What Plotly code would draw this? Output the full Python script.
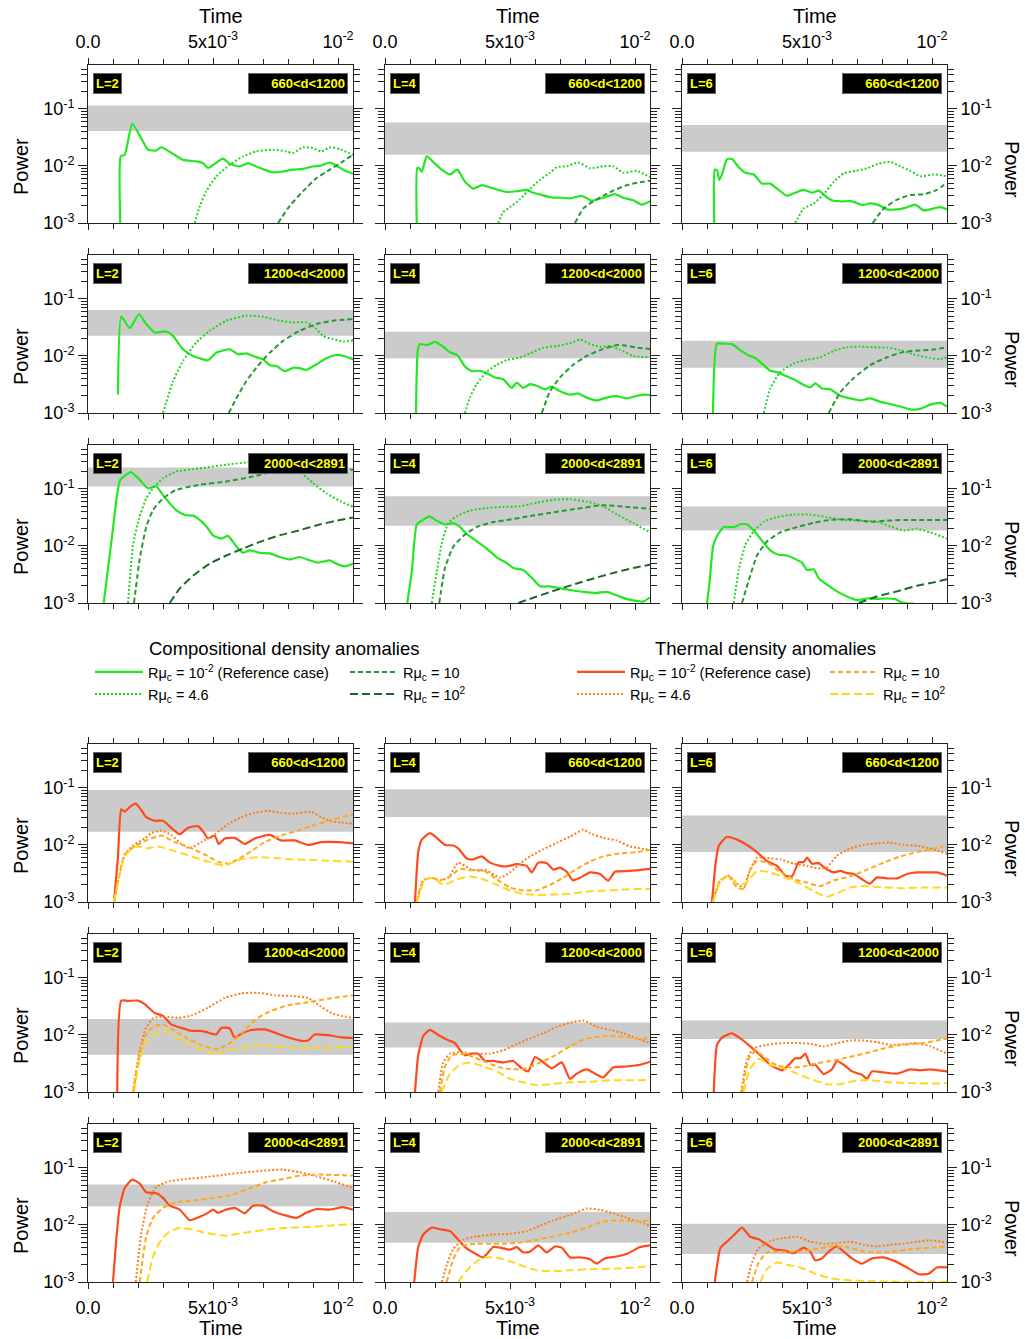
import plotly.graph_objects as go

# ---------------- data (time in units of 1e-3, power as read) ----------------
T_UNIT = 1e-3
X_MAX = 10.6

DEPTHS = ["660<d<1200", "1200<d<2000", "2000<d<2891"]
DEGREES = [2, 4, 6]

# gray bands (lo, hi) per depth row, per degree
comp_band = [[(0.041, 0.115), (0.0157, 0.058), (0.0177, 0.052)],
             [(0.0225, 0.064), (0.0091, 0.0265), (0.0062, 0.0185)],
             [(0.11, 0.238), (0.0226, 0.0747), (0.0186, 0.049)]]
therm_band = [[(0.017, 0.092), (0.031, 0.095), (0.0075, 0.033)],
              [(0.0045, 0.019), (0.006, 0.0165), (0.0085, 0.018)],
              [(0.0212, 0.051), (0.0049, 0.0168), (0.0031, 0.0105)]]

# ---- compositional, L=2
comp_L2_d1_ref = [(1.29,0.001),(1.31,0.0147),(1.47,0.0157),(1.77,0.0547),(2.2,0.0268),(2.4,0.0192),(2.73,0.0187),(2.93,0.0213),(3.4,0.0163),(3.8,0.0128),(4.33,0.012),(4.6,0.0112),(4.8,0.0092),(5.07,0.0109),(5.4,0.0134),(5.67,0.0109),(6.07,0.0098),(6.4,0.0112),(6.73,0.0098),(7.07,0.0086),(7.4,0.0077),(7.8,0.008),(8.2,0.0086),(8.6,0.0089),(9.0,0.0098),(9.33,0.0102),(9.67,0.0115),(9.93,0.0102),(10.27,0.0083),(10.6,0.0073)]
comp_L2_d1_r46 = [(4.27,0.001),(4.47,0.00196),(4.73,0.0036),(5.13,0.0065),(5.67,0.0105),(6.2,0.0147),(6.73,0.018),(7.4,0.0192),(7.93,0.018),(8.2,0.0168),(8.6,0.0213),(9.0,0.0205),(9.33,0.018),(9.67,0.0213),(10.07,0.0197),(10.6,0.0157)]
comp_L2_d1_r10 = [(7.6,0.001),(8.07,0.002),(8.6,0.0036),(9.13,0.0061),(9.67,0.0086),(10.2,0.012),(10.6,0.0157)]
comp_L2_d1_r100 = []
comp_L2_d2_ref = [(1.2,0.0021),(1.33,0.0488),(1.67,0.0308),(2.04,0.0544),(2.33,0.0362),(2.67,0.0258),(3.13,0.0269),(3.4,0.0225),(3.8,0.0131),(4.2,0.01),(4.47,0.0091),(4.8,0.0084),(5.13,0.0114),(5.67,0.0131),(6.0,0.0107),(6.33,0.0111),(6.6,0.01),(7.0,0.0087),(7.27,0.0069),(7.53,0.0067),(7.87,0.0054),(8.2,0.0062),(8.47,0.0061),(8.73,0.0057),(9.13,0.0071),(9.53,0.0091),(9.93,0.0104),(10.27,0.0099),(10.6,0.0087)]
comp_L2_d2_r46 = [(3.0,0.001),(3.4,0.0036),(3.8,0.0082),(4.33,0.0172),(4.87,0.0276),(5.53,0.0415),(6.33,0.0508),(7.0,0.0488),(7.67,0.0415),(8.2,0.0387),(8.73,0.039),(9.07,0.0316),(9.4,0.0225),(9.8,0.0197),(10.2,0.0179),(10.6,0.0188)]
comp_L2_d2_r10 = [(5.63,0.001),(5.93,0.0018),(6.33,0.0036),(6.73,0.0062),(7.27,0.0114),(7.8,0.0184),(8.47,0.0276),(9.13,0.0362),(9.8,0.0415),(10.6,0.0444)]
comp_L2_d2_r100 = []
comp_L2_d3_ref = [(0.63,0.001),(0.8,0.004),(1.0,0.0202),(1.16,0.078),(1.29,0.144),(1.71,0.197),(2.07,0.144),(2.4,0.103),(2.73,0.111),(3.0,0.078),(3.27,0.0558),(3.53,0.0426),(3.87,0.0348),(4.2,0.034),(4.53,0.0272),(4.8,0.0202),(5.0,0.0154),(5.33,0.0135),(5.6,0.015),(5.8,0.0118),(6.0,0.009),(6.2,0.0076),(6.47,0.0084),(6.87,0.0076),(7.27,0.0074),(7.67,0.0064),(8.07,0.0058),(8.47,0.0064),(8.87,0.0056),(9.2,0.0051),(9.67,0.0056),(9.93,0.0049),(10.27,0.0044),(10.6,0.0049)]
comp_L2_d3_r46 = [(1.6,0.001),(1.8,0.0103),(2.04,0.0304),(2.33,0.0684),(2.6,0.103),(3.0,0.154),(3.53,0.202),(4.47,0.23),(5.53,0.265),(6.47,0.296),(7.13,0.30),(7.93,0.265),(8.47,0.202),(9.0,0.126),(9.53,0.084),(10.07,0.0614),(10.6,0.0488)]
comp_L2_d3_r10 = [(1.84,0.001),(2.07,0.006),(2.33,0.0216),(2.6,0.0426),(3.0,0.0684),(3.53,0.096),(4.47,0.118),(5.53,0.135),(6.6,0.165),(7.4,0.202),(7.8,0.248),(8.47,0.265),(9.27,0.26),(10.6,0.216)]
comp_L2_d3_r100 = [(3.27,0.001),(3.67,0.0018),(4.2,0.003),(4.87,0.0049),(5.53,0.0068),(6.2,0.009),(6.87,0.0118),(7.67,0.0154),(8.47,0.0189),(9.27,0.0238),(9.93,0.0276),(10.6,0.0316)]
# ---- compositional, L=4
comp_L4_d1_ref = [(1.27,0.001),(1.29,0.0091),(1.37,0.0091),(1.47,0.0079),(1.67,0.0147),(2.0,0.011),(2.27,0.0086),(2.6,0.0071),(2.89,0.0086),(3.2,0.0053),(3.53,0.004),(3.87,0.0046),(4.2,0.0042),(4.53,0.0038),(4.87,0.0035),(5.27,0.0036),(5.67,0.0038),(5.93,0.0034),(6.27,0.0031),(6.67,0.0028),(7.07,0.00277),(7.4,0.0027),(7.87,0.003),(8.27,0.00246),(8.73,0.00277),(9.2,0.0032),(9.53,0.00277),(9.93,0.0025),(10.27,0.0021),(10.6,0.0024)]
comp_L4_d1_r46 = [(4.53,0.001),(4.73,0.00155),(5.0,0.0019),(5.4,0.0026),(5.8,0.004),(6.2,0.0057),(6.6,0.0076),(6.87,0.0095),(7.27,0.0099),(7.73,0.0115),(8.2,0.0091),(8.73,0.0099),(9.13,0.0099),(9.53,0.0076),(10.07,0.0082),(10.6,0.0064)]
comp_L4_d1_r10 = [(7.6,0.001),(7.93,0.0018),(8.33,0.0024),(8.73,0.003),(9.13,0.0037),(9.67,0.0046),(10.2,0.0052),(10.6,0.0055)]
comp_L4_d1_r100 = []
comp_L4_d2_ref = [(1.24,0.001),(1.31,0.0125),(1.4,0.0162),(1.67,0.0155),(2.0,0.0177),(2.33,0.0145),(2.6,0.0116),(2.89,0.0104),(3.2,0.0065),(3.47,0.0054),(3.8,0.0055),(4.07,0.005),(4.4,0.0042),(4.73,0.0039),(5.07,0.00275),(5.27,0.0034),(5.53,0.00275),(5.8,0.0032),(6.07,0.003),(6.4,0.0026),(6.67,0.0029),(7.0,0.0024),(7.4,0.0021),(7.73,0.0022),(8.07,0.00186),(8.47,0.00166),(8.87,0.00186),(9.27,0.00197),(9.67,0.0018),(10.07,0.002),(10.4,0.0021),(10.6,0.00205)]
comp_L4_d2_r46 = [(3.2,0.001),(3.4,0.0019),(3.67,0.0032),(4.07,0.0053),(4.47,0.007),(4.87,0.0085),(5.4,0.0094),(5.8,0.0111),(6.33,0.014),(6.87,0.0149),(7.4,0.0167),(7.8,0.0193),(8.2,0.0162),(8.6,0.0145),(9.0,0.0149),(9.4,0.0129),(9.93,0.01),(10.6,0.0094)]
comp_L4_d2_r10 = [(6.27,0.001),(6.6,0.0024),(7.0,0.0042),(7.53,0.007),(8.07,0.01),(8.73,0.0133),(9.27,0.0155),(9.67,0.0151),(10.07,0.014),(10.6,0.0133)]
comp_L4_d2_r100 = []
comp_L4_d3_ref = [(0.89,0.001),(1.07,0.0035),(1.27,0.024),(1.47,0.0277),(1.77,0.033),(2.07,0.0277),(2.4,0.024),(2.73,0.0251),(3.0,0.0216),(3.27,0.0162),(3.67,0.0121),(4.07,0.009),(4.47,0.0063),(4.87,0.005),(5.13,0.0041),(5.53,0.0038),(5.93,0.0026),(6.2,0.00196),(6.6,0.00196),(7.0,0.0018),(7.4,0.00169),(7.93,0.00157),(8.47,0.0015),(8.87,0.00157),(9.27,0.00136),(9.67,0.00117),(10.07,0.00109),(10.33,0.00106),(10.6,0.00126)]
comp_L4_d3_r46 = [(1.87,0.001),(2.07,0.0035),(2.27,0.0112),(2.53,0.0251),(2.87,0.0335),(3.4,0.0417),(4.07,0.0462),(4.73,0.0483),(5.4,0.0497),(6.07,0.0574),(6.73,0.0645),(7.4,0.066),(8.07,0.0598),(8.73,0.0497),(9.27,0.036),(9.93,0.0251),(10.6,0.0174)]
comp_L4_d3_r10 = [(2.17,0.001),(2.4,0.0041),(2.73,0.0097),(3.13,0.015),(3.67,0.0216),(4.33,0.0262),(5.0,0.029),(5.8,0.0335),(6.73,0.0388),(7.67,0.0449),(8.73,0.0519),(9.67,0.0483),(10.6,0.0449)]
comp_L4_d3_r100 = [(5.33,0.001),(6.07,0.0013),(6.87,0.0017),(7.67,0.0022),(8.47,0.0028),(9.27,0.0035),(9.93,0.0041),(10.6,0.0047)]
# ---- compositional, L=6
comp_L6_d1_ref = [(1.29,0.001),(1.31,0.0086),(1.4,0.0084),(1.49,0.0057),(1.6,0.0071),(1.8,0.0132),(2.0,0.0132),(2.27,0.0095),(2.53,0.0076),(2.87,0.0071),(3.2,0.0049),(3.53,0.0049),(3.87,0.0038),(4.2,0.003),(4.53,0.0034),(4.87,0.0038),(5.2,0.0034),(5.47,0.0037),(5.8,0.0028),(6.07,0.00245),(6.4,0.0024),(6.8,0.0024),(7.2,0.00206),(7.53,0.0022),(7.87,0.00206),(8.2,0.00173),(8.6,0.00173),(8.93,0.00184),(9.33,0.0021),(9.67,0.00166),(10.07,0.0018),(10.33,0.0019),(10.6,0.00173)]
comp_L6_d1_r46 = [(4.53,0.001),(4.87,0.0018),(5.27,0.0022),(5.67,0.0032),(6.07,0.0053),(6.47,0.0074),(6.93,0.0082),(7.4,0.0091),(7.87,0.011),(8.33,0.0118),(8.73,0.0099),(9.13,0.0082),(9.53,0.0066),(10.07,0.0071),(10.6,0.0066)]
comp_L6_d1_r10 = [(7.63,0.001),(8.07,0.0018),(8.6,0.00256),(9.13,0.0031),(9.67,0.0032),(10.2,0.0038),(10.6,0.0051)]
comp_L6_d1_r100 = []
comp_L6_d2_ref = [(1.24,0.001),(1.4,0.0164),(1.67,0.0164),(2.0,0.0161),(2.33,0.0127),(2.67,0.0102),(2.93,0.0092),(3.27,0.0069),(3.53,0.0055),(3.8,0.0052),(4.13,0.0045),(4.47,0.0039),(4.87,0.0031),(5.13,0.0028),(5.33,0.0033),(5.6,0.0027),(5.93,0.0026),(6.33,0.002),(6.73,0.0018),(7.13,0.00166),(7.53,0.0018),(7.93,0.00157),(8.33,0.00144),(8.73,0.0013),(9.13,0.00116),(9.53,0.00118),(9.93,0.0014),(10.33,0.0015),(10.6,0.0013)]
comp_L6_d2_r46 = [(3.27,0.001),(3.53,0.0027),(3.93,0.0052),(4.47,0.0074),(5.0,0.0086),(5.53,0.0095),(6.07,0.0123),(6.6,0.0142),(7.13,0.0146),(7.67,0.0142),(8.2,0.014),(8.73,0.0127),(9.27,0.0106),(9.93,0.0092),(10.33,0.0088),(10.6,0.0095)]
comp_L6_d2_r10 = [(5.87,0.001),(6.33,0.0023),(6.87,0.0041),(7.53,0.0069),(8.2,0.0095),(8.87,0.0118),(9.53,0.0125),(10.07,0.013),(10.6,0.0142)]
comp_L6_d2_r100 = []
comp_L6_d3_ref = [(1.0,0.001),(1.11,0.0025),(1.24,0.0097),(1.4,0.015),(1.67,0.0214),(2.07,0.0214),(2.33,0.024),(2.6,0.024),(2.87,0.0186),(3.2,0.0124),(3.53,0.0084),(3.87,0.007),(4.2,0.0068),(4.53,0.0059),(4.8,0.0051),(5.0,0.0038),(5.27,0.0039),(5.47,0.0027),(5.8,0.0021),(6.2,0.0016),(6.6,0.0013),(7.0,0.00112),(7.4,0.0012),(7.8,0.00118),(8.2,0.0012),(8.53,0.00117),(8.8,0.00102),(9.07,0.00098),(9.27,0.00098)]
comp_L6_d3_r46 = [(2.07,0.001),(2.27,0.0038),(2.53,0.0104),(2.87,0.018),(3.27,0.0266),(3.8,0.032),(4.47,0.0355),(5.13,0.0355),(5.8,0.032),(6.47,0.0286),(7.13,0.0278),(7.8,0.0266),(8.33,0.022),(8.87,0.0186),(9.4,0.02),(9.93,0.0173),(10.6,0.0135)]
comp_L6_d3_r10 = [(2.4,0.001),(2.67,0.0025),(3.0,0.0068),(3.4,0.012),(3.93,0.0173),(4.6,0.0214),(5.27,0.0255),(5.93,0.0286),(6.73,0.0294),(7.53,0.0266),(8.2,0.0278),(8.87,0.0286),(9.67,0.0286),(10.6,0.0286)]
comp_L6_d3_r100 = [(7.07,0.001),(7.8,0.0013),(8.6,0.0016),(9.4,0.002),(10.07,0.0023),(10.6,0.0026)]

# ---- thermal, L=2
therm_L2_d1_ref = [(1.04,0.001),(1.2,0.0063),(1.33,0.0422),(1.47,0.0383),(1.67,0.046),(1.91,0.053),(2.13,0.041),(2.33,0.0307),(2.67,0.0266),(3.0,0.0266),(3.33,0.02),(3.67,0.0154),(4.0,0.02),(4.4,0.0214),(4.6,0.0173),(4.8,0.013),(5.07,0.0145),(5.23,0.0104),(5.47,0.013),(5.87,0.0133),(6.27,0.0104),(6.67,0.013),(7.27,0.015),(7.73,0.012),(8.27,0.012),(8.8,0.01),(9.33,0.0112),(10.0,0.0112),(10.6,0.0107)]
therm_L2_d1_r46 = [(1.04,0.001),(1.47,0.0068),(1.8,0.0097),(2.27,0.013),(2.53,0.0161),(2.93,0.0178),(3.33,0.015),(3.73,0.0104),(4.07,0.0087),(4.53,0.0112),(5.07,0.0154),(5.6,0.0231),(6.13,0.0307),(6.67,0.0365),(7.2,0.0398),(7.73,0.0365),(8.27,0.0355),(8.93,0.0383),(9.33,0.0307),(9.73,0.0259),(10.13,0.0248),(10.6,0.0237)]
therm_L2_d1_r10 = [(1.04,0.001),(1.47,0.0068),(1.87,0.0094),(2.33,0.012),(2.93,0.0146),(3.47,0.0112),(4.07,0.009),(4.67,0.0068),(5.2,0.0051),(5.6,0.0047),(6.0,0.0056),(6.53,0.0078),(7.07,0.0112),(7.73,0.0146),(8.4,0.0178),(9.07,0.0224),(9.73,0.0274),(10.6,0.0345)]
therm_L2_d1_r100 = [(1.04,0.001),(1.47,0.0063),(1.87,0.0094),(2.33,0.0087),(2.8,0.0094),(3.47,0.0078),(4.13,0.0063),(4.8,0.0051),(5.47,0.0044),(6.13,0.0056),(6.8,0.0061),(7.47,0.0059),(8.13,0.0056),(8.8,0.0055),(9.6,0.0053),(10.6,0.0051)]
therm_L2_d2_ref = [(1.17,0.001),(1.33,0.0401),(1.6,0.0395),(2.0,0.0401),(2.27,0.0347),(2.67,0.0243),(3.0,0.0216),(3.33,0.0153),(3.73,0.0133),(4.13,0.0118),(4.53,0.0118),(4.8,0.011),(5.13,0.0102),(5.33,0.0133),(5.67,0.013),(5.87,0.0089),(6.13,0.0105),(6.53,0.0122),(7.07,0.0125),(7.47,0.011),(8.0,0.0091),(8.53,0.0079),(8.8,0.008),(9.07,0.0102),(9.6,0.0099),(10.13,0.0091),(10.6,0.0089)]
therm_L2_d2_r46 = [(1.8,0.001),(2.0,0.0037),(2.27,0.0118),(2.6,0.0196),(3.07,0.0209),(3.6,0.02),(4.13,0.0218),(4.8,0.0301),(5.47,0.0444),(6.13,0.0535),(6.8,0.055),(7.47,0.0498),(8.13,0.048),(8.8,0.0444),(9.27,0.0323),(9.73,0.0243),(10.13,0.0216),(10.6,0.02)]
therm_L2_d2_r10 = [(1.8,0.001),(2.0,0.0032),(2.27,0.0095),(2.6,0.0137),(3.0,0.0153),(3.47,0.0118),(4.0,0.0086),(4.53,0.0067),(5.07,0.0056),(5.6,0.0068),(6.13,0.0105),(6.67,0.0182),(7.2,0.025),(8.0,0.0333),(8.8,0.0373),(9.6,0.0431),(10.6,0.0498)]
therm_L2_d2_r100 = [(1.84,0.001),(2.07,0.0037),(2.33,0.0077),(2.67,0.0105),(3.0,0.0118),(3.47,0.0095),(4.13,0.0067),(4.8,0.005),(5.13,0.0047),(5.73,0.0055),(6.4,0.0062),(6.93,0.0067),(7.47,0.0062),(8.27,0.006),(9.07,0.006),(9.87,0.006),(10.6,0.0062)]
therm_L2_d3_ref = [(1.0,0.001),(1.13,0.0055),(1.27,0.0212),(1.47,0.0446),(1.77,0.0624),(2.07,0.0531),(2.33,0.0374),(2.73,0.036),(3.0,0.0298),(3.27,0.0218),(3.67,0.0186),(4.07,0.0121),(4.47,0.0139),(4.8,0.0163),(5.0,0.0186),(5.2,0.0163),(5.53,0.0186),(5.87,0.0199),(6.27,0.016),(6.6,0.0218),(7.0,0.0218),(7.4,0.0174),(7.8,0.0151),(8.33,0.0133),(8.73,0.0163),(9.13,0.019),(9.67,0.0186),(10.2,0.0206),(10.6,0.0186)]
therm_L2_d3_r46 = [(1.91,0.001),(2.13,0.0072),(2.4,0.0243),(2.73,0.0464),(3.27,0.0583),(3.93,0.0641),(4.73,0.069),(5.53,0.0764),(6.33,0.084),(7.13,0.09),(7.8,0.0935),(8.47,0.084),(9.13,0.0714),(9.8,0.0583),(10.6,0.0446)]
therm_L2_d3_r10 = [(2.07,0.001),(2.33,0.0063),(2.6,0.0133),(3.0,0.0199),(3.53,0.025),(4.33,0.0271),(5.0,0.0298),(5.8,0.034),(6.6,0.0464),(7.13,0.0561),(7.8,0.0641),(8.47,0.0733),(9.27,0.0764),(10.6,0.0733)]
therm_L2_d3_r100 = [(2.37,0.001),(2.6,0.0028),(2.93,0.0055),(3.27,0.0077),(3.67,0.0089),(4.2,0.0083),(4.73,0.0072),(5.53,0.0065),(6.33,0.0074),(7.13,0.0083),(7.93,0.0089),(8.73,0.0092),(9.67,0.0097),(10.6,0.0104)]
# ---- thermal, L=4
therm_L4_d1_ref = [(1.2,0.001),(1.33,0.0075),(1.47,0.0124),(1.8,0.0161),(2.07,0.0133),(2.4,0.01),(2.73,0.0098),(2.93,0.0087),(3.27,0.0058),(3.53,0.0056),(3.87,0.0063),(4.2,0.0049),(4.6,0.0043),(4.87,0.0042),(5.27,0.0046),(5.67,0.0043),(5.87,0.0033),(6.13,0.0049),(6.47,0.0048),(6.73,0.0037),(7.0,0.004),(7.27,0.0034),(7.51,0.0024),(7.8,0.00266),(8.2,0.0033),(8.6,0.0031),(8.93,0.00237),(9.2,0.0034),(9.8,0.0035),(10.6,0.0038)]
therm_L4_d1_r46 = [(1.27,0.001),(1.53,0.0024),(1.87,0.00266),(2.2,0.0024),(2.53,0.00266),(2.93,0.0049),(3.4,0.0038),(3.8,0.0035),(4.0,0.0037),(4.6,0.00266),(5.0,0.0033),(5.4,0.0047),(5.8,0.0063),(6.33,0.0084),(6.87,0.0109),(7.4,0.0139),(7.93,0.0186),(8.2,0.016),(8.73,0.0133),(9.27,0.012),(9.8,0.0094),(10.6,0.0082)]
therm_L4_d1_r10 = [(1.27,0.001),(1.53,0.0024),(1.87,0.00266),(2.2,0.0024),(2.6,0.0028),(3.0,0.0038),(3.4,0.0036),(3.93,0.0036),(4.47,0.0025),(5.0,0.00178),(5.53,0.0016),(6.07,0.0016),(6.6,0.002),(7.13,0.00266),(7.67,0.0038),(8.2,0.0051),(8.73,0.0063),(9.4,0.0071),(10.07,0.0075),(10.6,0.0082)]
therm_L4_d1_r100 = [(1.29,0.001),(1.6,0.0025),(1.93,0.00266),(2.33,0.002),(2.87,0.0025),(3.4,0.0028),(3.93,0.0025),(4.47,0.002),(5.0,0.0016),(5.53,0.00139),(6.07,0.00133),(6.73,0.00136),(7.4,0.00139),(8.2,0.00154),(9.0,0.0016),(9.8,0.00168),(10.6,0.0017)]
therm_L4_d2_ref = [(1.2,0.001),(1.33,0.0044),(1.53,0.0096),(1.8,0.0123),(2.07,0.0104),(2.47,0.0083),(2.8,0.0072),(3.0,0.0054),(3.2,0.0044),(3.47,0.0047),(3.73,0.0047),(4.0,0.0035),(4.33,0.0035),(4.73,0.0033),(5.13,0.0035),(5.47,0.0026),(5.73,0.0023),(6.0,0.0041),(6.27,0.0035),(6.67,0.0026),(7.07,0.0033),(7.4,0.0017),(7.67,0.0021),(8.07,0.0025),(8.4,0.0021),(8.73,0.0018),(9.13,0.0027),(9.67,0.0028),(10.2,0.003),(10.6,0.0034)]
therm_L4_d2_r46 = [(2.13,0.001),(2.33,0.0033),(2.6,0.0047),(3.0,0.005),(3.53,0.0047),(4.2,0.0047),(4.73,0.0054),(5.27,0.0069),(5.8,0.0087),(6.33,0.0107),(6.87,0.0138),(7.4,0.0164),(7.93,0.0179),(8.47,0.0138),(9.0,0.0123),(9.53,0.0107),(10.07,0.0087),(10.6,0.0072)]
therm_L4_d2_r10 = [(2.2,0.001),(2.4,0.0028),(2.67,0.0044),(3.13,0.0047),(3.53,0.0041),(4.07,0.0033),(4.6,0.0027),(5.13,0.0025),(5.67,0.0026),(6.2,0.0033),(6.73,0.0042),(7.4,0.0063),(7.93,0.0083),(8.47,0.0093),(9.0,0.0096),(9.53,0.0093),(10.07,0.0087),(10.6,0.0087)]
therm_L4_d2_r100 = [(2.27,0.001),(2.6,0.0021),(3.0,0.003),(3.4,0.0033),(3.93,0.0028),(4.47,0.0023),(5.0,0.0017),(5.53,0.00148),(6.07,0.00132),(6.6,0.00137),(7.4,0.00148),(8.2,0.00152),(9.0,0.0016),(9.8,0.0016),(10.6,0.00163)]
therm_L4_d3_ref = [(1.17,0.001),(1.33,0.0041),(1.53,0.0068),(1.87,0.009),(2.2,0.0084),(2.6,0.0078),(2.87,0.0059),(3.2,0.0041),(3.53,0.0033),(3.93,0.0027),(4.33,0.0041),(4.6,0.004),(5.0,0.0037),(5.27,0.0041),(5.53,0.0033),(5.8,0.0034),(6.13,0.0044),(6.47,0.0033),(6.8,0.0042),(7.07,0.004),(7.4,0.0027),(7.8,0.0027),(8.2,0.0025),(8.47,0.0021),(8.8,0.0026),(9.27,0.0028),(9.73,0.0032),(10.2,0.0041),(10.6,0.0044)]
therm_L4_d3_r46 = [(2.27,0.001),(2.47,0.002),(2.73,0.0038),(3.13,0.0055),(3.67,0.0063),(4.33,0.0068),(5.0,0.007),(5.67,0.0078),(6.2,0.0097),(6.73,0.012),(7.4,0.015),(8.07,0.0194),(8.6,0.0185),(9.13,0.016),(9.67,0.0133),(10.2,0.0112),(10.6,0.0097)]
therm_L4_d3_r10 = [(2.47,0.001),(2.73,0.0025),(3.0,0.0041),(3.4,0.0046),(4.07,0.0047),(4.73,0.0047),(5.4,0.0049),(6.07,0.0055),(6.73,0.0063),(7.4,0.0073),(8.07,0.009),(8.73,0.0115),(9.4,0.012),(10.07,0.0115),(10.6,0.012)]
therm_L4_d3_r100 = [(2.93,0.001),(3.27,0.0016),(3.67,0.0023),(4.0,0.0027),(4.47,0.0027),(5.0,0.0023),(5.53,0.0019),(6.07,0.0016),(6.73,0.00155),(7.4,0.0016),(8.2,0.00168),(9.0,0.0017),(9.8,0.00178),(10.6,0.0019)]
# ---- thermal, L=6
therm_L6_d1_ref = [(1.2,0.001),(1.33,0.0042),(1.47,0.0097),(1.8,0.0139),(2.2,0.0124),(2.6,0.01),(3.0,0.0075),(3.4,0.0052),(3.8,0.0043),(4.13,0.0029),(4.4,0.00283),(4.67,0.005),(4.87,0.005),(5.0,0.006),(5.2,0.0047),(5.47,0.0048),(5.73,0.0039),(6.07,0.0033),(6.33,0.0035),(6.6,0.0032),(6.87,0.0031),(7.2,0.0025),(7.51,0.0021),(7.8,0.0027),(8.2,0.0026),(8.6,0.0026),(9.0,0.0031),(9.4,0.0033),(9.8,0.0033),(10.2,0.0033),(10.6,0.0029)]
therm_L6_d1_r46 = [(1.23,0.001),(1.53,0.0024),(1.87,0.0029),(2.2,0.0021),(2.47,0.00178),(2.67,0.0032),(3.0,0.006),(3.4,0.0059),(3.93,0.0056),(4.47,0.0047),(5.0,0.0043),(5.4,0.0039),(5.8,0.0041),(6.2,0.0065),(6.73,0.0087),(7.27,0.01),(7.8,0.0107),(8.33,0.011),(8.87,0.01),(9.4,0.0097),(9.93,0.0087),(10.6,0.007)]
therm_L6_d1_r10 = [(1.23,0.001),(1.53,0.0024),(1.87,0.0028),(2.2,0.0018),(2.47,0.0017),(2.73,0.0037),(3.0,0.0052),(3.4,0.0049),(3.93,0.0034),(4.47,0.0025),(5.0,0.0022),(5.53,0.0019),(6.07,0.0024),(6.73,0.0028),(7.4,0.0037),(8.07,0.0049),(8.73,0.0063),(9.4,0.0075),(10.07,0.0087),(10.6,0.0097)]
therm_L6_d1_r100 = [(1.24,0.001),(1.53,0.0022),(1.87,0.0029),(2.2,0.0021),(2.53,0.0021),(3.0,0.0035),(3.53,0.0033),(4.07,0.0027),(4.73,0.0021),(5.27,0.00154),(5.8,0.00124),(6.2,0.00143),(6.73,0.0018),(7.27,0.0019),(8.07,0.0018),(8.87,0.00175),(9.67,0.0018),(10.6,0.0018)]
therm_L6_d2_ref = [(1.27,0.001),(1.4,0.0067),(1.6,0.009),(2.0,0.0107),(2.33,0.0087),(2.73,0.0063),(3.13,0.0044),(3.53,0.003),(4.0,0.0024),(4.27,0.003),(4.53,0.0039),(4.73,0.0039),(4.93,0.0047),(5.13,0.003),(5.33,0.003),(5.67,0.00206),(6.0,0.0025),(6.2,0.0035),(6.47,0.003),(6.8,0.0023),(7.2,0.002),(7.4,0.0017),(7.6,0.0023),(8.07,0.0022),(8.6,0.0021),(9.13,0.0025),(9.53,0.0024),(9.93,0.0025),(10.6,0.0023)]
therm_L6_d2_r46 = [(2.37,0.001),(2.6,0.0038),(2.87,0.0058),(3.4,0.0067),(4.07,0.0072),(4.6,0.0072),(5.13,0.007),(5.67,0.0063),(6.2,0.0072),(6.73,0.008),(7.27,0.008),(7.8,0.0075),(8.33,0.0067),(8.87,0.0069),(9.4,0.0072),(9.93,0.0063),(10.6,0.0047)]
therm_L6_d2_r10 = [(2.4,0.001),(2.67,0.0038),(2.93,0.0052),(3.4,0.0038),(3.8,0.0029),(4.33,0.0027),(4.87,0.0028),(5.4,0.0032),(5.93,0.0035),(6.47,0.0039),(7.0,0.0044),(7.53,0.005),(8.07,0.0058),(8.6,0.0065),(9.13,0.0069),(9.67,0.0072),(10.2,0.008),(10.6,0.0087)]
therm_L6_d2_r100 = [(2.47,0.001),(2.73,0.0026),(3.07,0.0038),(3.53,0.003),(4.07,0.0026),(4.6,0.0021),(5.13,0.0017),(5.8,0.00137),(6.33,0.00137),(7.0,0.0016),(7.53,0.0016),(8.33,0.00148),(9.13,0.00143),(9.93,0.00141),(10.6,0.00142)]
therm_L6_d3_ref = [(1.31,0.001),(1.4,0.0019),(1.53,0.0039),(1.8,0.0051),(2.13,0.007),(2.4,0.009),(2.73,0.0062),(3.07,0.0056),(3.4,0.0045),(3.73,0.0037),(4.07,0.0036),(4.47,0.0032),(4.87,0.004),(5.13,0.0034),(5.33,0.0024),(5.6,0.0026),(5.87,0.0034),(6.2,0.0042),(6.47,0.0034),(6.8,0.0026),(7.2,0.0021),(7.6,0.0026),(8.07,0.0027),(8.53,0.0023),(9.0,0.0018),(9.47,0.00137),(9.87,0.0014),(10.2,0.0018),(10.6,0.0018)]
therm_L6_d3_r46 = [(2.6,0.001),(2.8,0.0022),(3.07,0.0039),(3.53,0.0052),(4.07,0.0059),(4.6,0.0062),(5.13,0.0051),(5.67,0.0047),(6.2,0.0048),(6.73,0.0051),(7.27,0.0045),(7.8,0.0042),(8.33,0.0045),(8.87,0.0047),(9.4,0.0051),(9.93,0.0054),(10.6,0.0049)]
therm_L6_d3_r10 = [(2.8,0.001),(3.07,0.0022),(3.4,0.0033),(3.93,0.0034),(4.6,0.0034),(5.27,0.0037),(5.93,0.0042),(6.6,0.0041),(7.27,0.0034),(7.93,0.0033),(8.6,0.0035),(9.27,0.0038),(9.93,0.004),(10.6,0.0042)]
therm_L6_d3_r100 = [(3.13,0.001),(3.4,0.0017),(3.8,0.0022),(4.2,0.002),(4.73,0.0018),(5.27,0.00143),(5.93,0.00116),(6.6,0.00108),(7.53,0.00103),(8.33,0.00102),(9.13,0.00101),(9.93,0.00101),(10.6,0.00101)]

CURVE_KEYS = ["ref", "r46", "r10", "r100"]
LABELS = {"ref": "R\u03bc<sub>c</sub> = 10<sup>-2</sup> (Reference case)",
          "r46": "R\u03bc<sub>c</sub> = 4.6",
          "r10": "R\u03bc<sub>c</sub> = 10",
          "r100": "R\u03bc<sub>c</sub> = 10<sup>2</sup>"}

# ---------------- styling ----------------
W, H = 1025, 1339
FONT = "Liberation Sans, Arial, Helvetica, sans-serif"
COL_LEFT = [88, 385, 682]
ROW_TOP = [65, 255, 445, 744, 934, 1124]
PW, PH = 265, 158
AX_COLOR = "#222222"

COLORS = {"comp": {"ref": "#22e822", "r46": "#22d422", "r10": "#259a35", "r100": "#1b6a2b"},
          "therm": {"ref": "#ff4a1c", "r46": "#ff7d1a", "r10": "#ffa81c", "r100": "#ffd71c"}}
DASHES = {"ref": "solid", "r46": "2px,2px", "r10": "5px,3px", "r100": "8px,4px"}
WIDTHS = {"ref": 2.2, "r46": 2.0, "r10": 2.0, "r100": 2.0}
LEGEND_OF = {"comp": {"ref": "legend", "r10": "legend", "r46": "legend2", "r100": "legend2"},
             "therm": {"ref": "legend3", "r10": "legend3", "r46": "legend4", "r100": "legend4"}}

data = globals()
fig = go.Figure()
layout = {}
annotations = []
shown = set()

minor_x = [i * T_UNIT for i in range(1, 11) if i not in (5, 10)]
minor_y = [m * 10.0 ** e for e in (-3, -2, -1) for m in range(2, 10)]


def text_ann(x_px, y_px, text, size, angle=0):
    return dict(xref="paper", yref="paper", x=x_px / W, y=1 - y_px / H,
                xanchor="center", yanchor="middle", text=text, textangle=angle,
                showarrow=False, font=dict(size=size, color="black", family=FONT))


k = 0
for block in ("comp", "therm"):
    for di in range(3):
        for li, L in enumerate(DEGREES):
            k += 1
            r = di + (0 if block == "comp" else 3)
            c = li
            xa = "x" if k == 1 else f"x{k}"
            ya = "y" if k == 1 else f"y{k}"
            x0 = COL_LEFT[c]
            y0 = ROW_TOP[r]
            lo, hi = (comp_band if block == "comp" else therm_band)[di][li]
            # gray band
            fig.add_trace(go.Scatter(x=[0, X_MAX * T_UNIT, X_MAX * T_UNIT, 0, 0],
                                     y=[lo, lo, hi, hi, lo], mode="lines", fill="toself",
                                     fillcolor="#cbcbcb", line=dict(width=0, color="#cbcbcb"),
                                     hoverinfo="skip", showlegend=False, xaxis=xa, yaxis=ya))
            for key in CURVE_KEYS:
                pts = data[f"{block}_L{L}_d{di+1}_{key}"]
                if not pts:
                    continue
                show = (block, key) not in shown
                shown.add((block, key))
                fig.add_trace(go.Scatter(
                    x=[p[0] * T_UNIT for p in pts], y=[p[1] for p in pts], mode="lines",
                    line=dict(color=COLORS[block][key], width=WIDTHS[key], dash=DASHES[key],
                              shape="spline", smoothing=0.5),
                    name=LABELS[key], legend=LEGEND_OF[block][key], showlegend=show,
                    xaxis=xa, yaxis=ya))
            xkey = "xaxis" if k == 1 else f"xaxis{k}"
            ykey = "yaxis" if k == 1 else f"yaxis{k}"
            layout[xkey] = dict(
                domain=[x0 / W, (x0 + PW) / W], anchor=ya, range=[0, X_MAX * T_UNIT],
                automargin=False,
                tickmode="array", tickvals=[0, 5 * T_UNIT, 10 * T_UNIT],
                ticktext=["0.0", "5x10<sup>-3</sup>", "10<sup>-2</sup>"],
                ticks="outside", ticklen=6, tickwidth=1, tickcolor=AX_COLOR,
                minor=dict(tickmode="array", tickvals=minor_x, ticks="outside", ticklen=5,
                           tickwidth=1, tickcolor=AX_COLOR, showgrid=False),
                showline=True, linecolor=AX_COLOR, linewidth=1, mirror="ticks",
                showgrid=False, zeroline=False,
                showticklabels=(r in (0, 5)), side="top" if r == 0 else "bottom",
                ticklabelstandoff=3,
                tickfont=dict(size=18, color="black", family=FONT))
            layout[ykey] = dict(
                domain=[1 - (y0 + PH) / H, 1 - y0 / H], anchor=xa, type="log", range=[-3, -0.23],
                automargin=False,
                tickmode="array", tickvals=[1e-3, 1e-2, 1e-1],
                ticktext=["10<sup>-3</sup>", "10<sup>-2</sup>", "10<sup>-1</sup>"],
                ticks="outside", ticklen=9, tickwidth=1, tickcolor=AX_COLOR,
                minor=dict(tickmode="array", tickvals=minor_y, ticks="outside", ticklen=6,
                           tickwidth=1, tickcolor=AX_COLOR, showgrid=False),
                showline=True, linecolor=AX_COLOR, linewidth=1, mirror="ticks",
                showgrid=False, zeroline=False,
                showticklabels=(c != 1), side="left" if c == 0 else "right",
                tickfont=dict(size=18, color="black", family=FONT))
            dref = "x domain" if k == 1 else f"x{k} domain"
            yref = "y domain" if k == 1 else f"y{k} domain"
            annotations.append(dict(xref=dref, yref=yref, x=5 / PW, y=1 - 8 / PH,
                                    xanchor="left", yanchor="top", showarrow=False,
                                    text=f"<b>L={L}</b>", bgcolor="black", borderpad=2,
                                    bordercolor="#666666", borderwidth=1,
                                    font=dict(color="#ffff00", size=13, family=FONT)))
            annotations.append(dict(xref=dref, yref=yref, x=1 - 5 / PW, y=1 - 8 / PH,
                                    xanchor="right", yanchor="top", showarrow=False,
                                    text="<b>" + DEPTHS[di].replace("<", "&lt;") + "</b>",
                                    bgcolor="black", borderpad=2, width=94, align="right",
                                    bordercolor="#666666", borderwidth=1,
                                    font=dict(color="#ffff00", size=13, family=FONT)))
            if c == 0:
                annotations.append(text_ann(21, y0 + 102, "Power", 20, -90))
            if c == 2:
                annotations.append(text_ann(1012, y0 + 104, "Power", 20, 90))
            if r == 0:
                annotations.append(text_ann(x0 + PW / 2, 16, "Time", 20))
            if r == 5:
                annotations.append(text_ann(x0 + PW / 2, 1328, "Time", 20))

annotations.append(text_ann(284, 648, "Compositional density anomalies", 18.5))
annotations.append(text_ann(765, 648, "Thermal density anomalies", 18.5))

leg_common = dict(orientation="h", xanchor="left", yanchor="middle",
                  font=dict(size=14.5, color="black", family=FONT), bgcolor="rgba(0,0,0,0)",
                  itemwidth=48, entrywidthmode="pixels", borderwidth=0, traceorder="normal",
                  itemclick=False, itemdoubleclick=False)
layout["legend"] = dict(leg_common, x=90 / W, y=1 - 672 / H, entrywidth=192)
layout["legend2"] = dict(leg_common, x=90 / W, y=1 - 694 / H, entrywidth=192)
layout["legend3"] = dict(leg_common, x=572 / W, y=1 - 672 / H, entrywidth=190)
layout["legend4"] = dict(leg_common, x=572 / W, y=1 - 694 / H, entrywidth=190)

fig.update_layout(width=W, height=H, margin=dict(l=0, r=0, t=0, b=0, autoexpand=False),
                  paper_bgcolor="white", plot_bgcolor="white",
                  annotations=annotations, **layout)

fig.write_html("out.html", config={"displayModeBar": False},
               post_script="document.body.style.margin='0';")
